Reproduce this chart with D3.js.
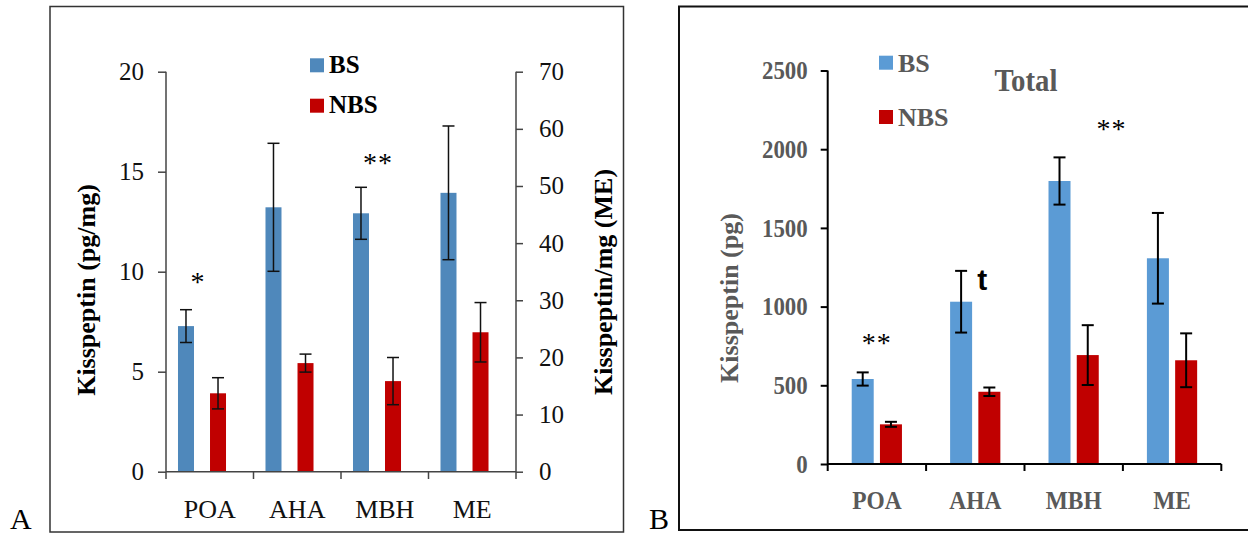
<!DOCTYPE html>
<html>
<head>
<meta charset="utf-8">
<title>kisspeptin BS / NBS</title>
<script src="https://cdn.jsdelivr.net/npm/d3@7"></script>
<style>
  body {margin:0;background:#fff;}
  svg {display:block;font-family:"Liberation Serif","Times New Roman",serif;}
</style>
</head>
<body>
<svg id="chart" width="1248" height="535"></svg>
<script>
// data
var regions = ["POA", "AHA", "MBH", "ME"];
var groups = ["BS", "NBS"];

// panel A: pg/mg (ME is on the right axis, pg/mg ME units)
var concBS     = [7.28, 13.22, 12.92, 48.8];
var concBSerr  = [0.82, 3.2, 1.3, 11.7];
var concNBS    = [3.92, 5.43, 4.53, 24.4];
var concNBSerr = [0.78, 0.45, 1.18, 5.2];
var concAxisL  = [0, 5, 10, 15, 20];
var concAxisR  = [0, 10, 20, 30, 40, 50, 60, 70];
var concMarks  = [{region:"POA", text:"*"}, {region:"MBH", text:"**"}];

// panel B: total pg
var totBS      = [540, 1031, 1798, 1307];
var totBSerr   = [42, 196, 150, 288];
var totNBS     = [252, 459, 692, 659];
var totNBSerr  = [16, 27, 190, 171];
var totAxis    = [0, 500, 1000, 1500, 2000, 2500];
var totMarks   = [{region:"POA", text:"**"}, {region:"MBH", text:"**"}];

var svg = d3.select("#chart");

// panel frames
svg.append("rect").attr("x",50).attr("y",6.5).attr("width",573.5).attr("height",525.5)
   .attr("fill","none").attr("stroke","#333").attr("stroke-width",1.5);
svg.append("rect").attr("x",679).attr("y",6.5).attr("width",600).attr("height",523.5)
   .attr("fill","none").attr("stroke","#111").attr("stroke-width",2);
svg.append("text").attr("x",10).attr("y",529).attr("font-size",30).text("A");
svg.append("text").attr("x",649).attr("y",529).attr("font-size",30).text("B");

/* ---------- panel A ---------- */
var gA = svg.append("g");
var xA = d3.scaleBand().domain(regions).range([166,516]);
var yL = d3.scaleLinear().domain([0,20]).range([471.7,71.7]);
var yR = d3.scaleLinear().domain([0,70]).range([471.7,71.7]);
var colA = {BS:"#4f88bb", NBS:"#c00000"};
function scaleA(r){ return r=="ME" ? yR : yL; }

var rowsA = regions.map(function(r,i){
  return [{r:r,g:"BS",v:concBS[i],e:concBSerr[i],off:0.137},
          {r:r,g:"NBS",v:concNBS[i],e:concNBSerr[i],off:0.503}];
}).flat();

gA.selectAll("rect.bar").data(rowsA).join("rect").attr("class","bar")
  .attr("x",function(d){return xA(d.r)+d.off*xA.bandwidth();})
  .attr("width",16)
  .attr("y",function(d){return scaleA(d.r)(d.v);})
  .attr("height",function(d){return scaleA(d.r)(0)-scaleA(d.r)(d.v);})
  .attr("fill",function(d){return colA[d.g];});

var errA = gA.selectAll("g.err").data(rowsA).join("g").attr("class","err")
  .attr("stroke","#111").attr("stroke-width",1.5);
errA.append("line")
  .attr("x1",function(d){return xA(d.r)+d.off*xA.bandwidth()+8;})
  .attr("x2",function(d){return xA(d.r)+d.off*xA.bandwidth()+8;})
  .attr("y1",function(d){return scaleA(d.r)(d.v+d.e);})
  .attr("y2",function(d){return scaleA(d.r)(d.v-d.e);});
[1,-1].forEach(function(s){
  errA.append("line")
    .attr("x1",function(d){return xA(d.r)+d.off*xA.bandwidth()+2;})
    .attr("x2",function(d){return xA(d.r)+d.off*xA.bandwidth()+14;})
    .attr("y1",function(d){return scaleA(d.r)(d.v+s*d.e);})
    .attr("y2",function(d){return scaleA(d.r)(d.v+s*d.e);});
});

// axes A
var axL = gA.append("g").attr("transform","translate(166,0)")
  .call(d3.axisLeft(yL).tickValues(concAxisL).tickSize(8).tickPadding(14));
var axR = gA.append("g").attr("transform","translate(516,0)")
  .call(d3.axisRight(yR).tickValues(concAxisR).tickSize(7).tickPadding(16));
var axB = gA.append("g").attr("transform","translate(0,471.7)")
  .call(d3.axisBottom(xA).tickSize(0).tickPadding(28));
gA.selectAll(".domain").remove();
[axL,axR].forEach(function(a){
  a.selectAll("line").attr("stroke","#444").attr("stroke-width",1.5);
  a.selectAll("text").attr("font-family","Liberation Serif").attr("font-size",25).attr("fill","#111");
});
axB.selectAll("text").attr("font-family","Liberation Serif").attr("font-size",26).attr("fill","#111");
gA.append("line").attr("x1",166).attr("x2",166).attr("y1",71.7).attr("y2",479).attr("stroke","#444").attr("stroke-width",1.5);
gA.append("line").attr("x1",516).attr("x2",516).attr("y1",71.7).attr("y2",479).attr("stroke","#444").attr("stroke-width",1.5);
gA.append("line").attr("x1",166).attr("x2",516).attr("y1",471.7).attr("y2",471.7).attr("stroke","#444").attr("stroke-width",1.5);
gA.selectAll("line.ctick").data(regions.slice(1)).join("line").attr("class","ctick")
  .attr("x1",function(d){return xA(d);}).attr("x2",function(d){return xA(d);})
  .attr("y1",471.7).attr("y2",479).attr("stroke","#444").attr("stroke-width",1.5);

gA.append("text").attr("transform","translate(95,290) rotate(-90)").attr("text-anchor","middle")
  .attr("font-size",26).attr("font-weight","bold").text("Kisspeptin (pg/mg)");
gA.append("text").attr("transform","translate(612,282) rotate(-90)").attr("text-anchor","middle")
  .attr("font-size",26).attr("font-weight","bold").text("Kisspeptin/mg (ME)");

// legend A
var legA = gA.selectAll("g.leg").data(groups).join("g").attr("class","leg")
  .attr("transform",function(d,i){return "translate(310,"+(58.3+i*40.4)+")";});
legA.append("rect").attr("width",14).attr("height",14).attr("fill",function(d){return colA[d];});
legA.append("text").attr("x",19).attr("y",14.5).attr("font-size",25).attr("font-weight","bold").text(function(d){return d;});

// significance A
var markYA = {POA:291, MBH:172};
var markDXA = {POA:28, MBH:27};
gA.selectAll("text.sig").data(concMarks).join("text").attr("class","sig")
  .attr("x",function(d){return xA(d.region)+markDXA[d.region]+(d.text.length>1?10:4);})
  .attr("y",function(d){return markYA[d.region];})
  .attr("text-anchor","middle").attr("font-size",28).attr("letter-spacing",1)
  .text(function(d){return d.text;});

/* ---------- panel B ---------- */
var gB = svg.append("g");
var xB = d3.scaleBand().domain(regions).range([827.7,1221.3]);
var yB = d3.scaleLinear().domain([0,2500]).range([464,70.5]);
var colB = {BS:"#5b9bd5", NBS:"#c00000"};
var grey = "#595959";

var rowsB = regions.map(function(r,i){
  return [{r:r,g:"BS",v:totBS[i],e:totBSerr[i],off:0.244},
          {r:r,g:"NBS",v:totNBS[i],e:totNBSerr[i],off:0.531}];
}).flat();

gB.selectAll("rect.bar").data(rowsB).join("rect").attr("class","bar")
  .attr("x",function(d){return xB(d.r)+d.off*xB.bandwidth();})
  .attr("width",22)
  .attr("y",function(d){return yB(d.v);})
  .attr("height",function(d){return yB(0)-yB(d.v);})
  .attr("fill",function(d){return colB[d.g];});

var errB = gB.selectAll("g.err").data(rowsB).join("g").attr("class","err")
  .attr("stroke","#000").attr("stroke-width",2);
errB.append("line")
  .attr("x1",function(d){return xB(d.r)+d.off*xB.bandwidth()+11;})
  .attr("x2",function(d){return xB(d.r)+d.off*xB.bandwidth()+11;})
  .attr("y1",function(d){return yB(d.v+d.e);})
  .attr("y2",function(d){return yB(d.v-d.e);});
[1,-1].forEach(function(s){
  errB.append("line")
    .attr("x1",function(d){return xB(d.r)+d.off*xB.bandwidth()+5;})
    .attr("x2",function(d){return xB(d.r)+d.off*xB.bandwidth()+17;})
    .attr("y1",function(d){return yB(d.v+s*d.e);})
    .attr("y2",function(d){return yB(d.v+s*d.e);});
});

var axBL = gB.append("g").attr("transform","translate(827.7,0)")
  .call(d3.axisLeft(yB).tickValues(totAxis).tickFormat(d3.format("d")).tickSize(7));
axBL.selectAll("line").attr("stroke","#000").attr("stroke-width",2);
axBL.selectAll("text").attr("font-family","Liberation Serif").attr("font-size",26)
  .attr("font-weight","bold").attr("fill",grey)
  .attr("x",-20/0.88).attr("transform","scale(0.88,1)");
var axBB = gB.append("g").attr("transform","translate(0,464)")
  .call(d3.axisBottom(xB).tickSize(0).tickPadding(27));
axBB.selectAll("text").attr("font-family","Liberation Serif").attr("font-size",26)
  .attr("font-weight","bold").attr("fill",grey)
  .attr("transform","scale(0.9,1)");
gB.selectAll(".domain").remove();
gB.append("line").attr("x1",827.7).attr("x2",827.7).attr("y1",70.5).attr("y2",471).attr("stroke","#000").attr("stroke-width",2);
gB.append("line").attr("x1",827.7).attr("x2",1221.3).attr("y1",464).attr("y2",464).attr("stroke","#000").attr("stroke-width",2);
gB.selectAll("line.ctick").data(regions.slice(1).concat(["end"])).join("line").attr("class","ctick")
  .attr("x1",function(d){return d=="end"?1221.3:xB(d);}).attr("x2",function(d){return d=="end"?1221.3:xB(d);})
  .attr("y1",464).attr("y2",471).attr("stroke","#000").attr("stroke-width",2);

gB.append("text").attr("transform","translate(738,298) rotate(-90)").attr("text-anchor","middle")
  .attr("font-size",26).attr("font-weight","bold").attr("fill",grey).text("Kisspeptin (pg)");
gB.append("text").attr("transform","translate(1026,91) scale(0.9,1)").attr("text-anchor","middle")
  .attr("font-size",32).attr("font-weight","bold").attr("fill",grey).text("Total");

var legB = gB.selectAll("g.leg").data(groups).join("g").attr("class","leg")
  .attr("transform",function(d,i){return "translate(879,"+(55.7+i*54.3)+")";});
legB.append("rect").attr("width",14).attr("height",14).attr("fill",function(d){return colB[d];});
legB.append("text").attr("x",19).attr("y",16).attr("font-size",26).attr("font-weight","bold")
  .attr("fill",grey).text(function(d){return d;});

var markYB = {POA:352, MBH:138};
var markDXB = {POA:49, MBH:87};
gB.selectAll("text.sig").data(totMarks).join("text").attr("class","sig")
  .attr("x",function(d){return xB(d.region)+markDXB[d.region];})
  .attr("y",function(d){return markYB[d.region];})
  .attr("text-anchor","middle").attr("font-size",28).attr("letter-spacing",1)
  .text(function(d){return d.text;});
gB.append("text").attr("x",xB("AHA")+xB.bandwidth()*0.57).attr("y",290)
  .attr("text-anchor","middle").attr("font-family","Liberation Sans").attr("font-weight","bold")
  .attr("font-size",30).text("t");
</script>
</body>
</html>
